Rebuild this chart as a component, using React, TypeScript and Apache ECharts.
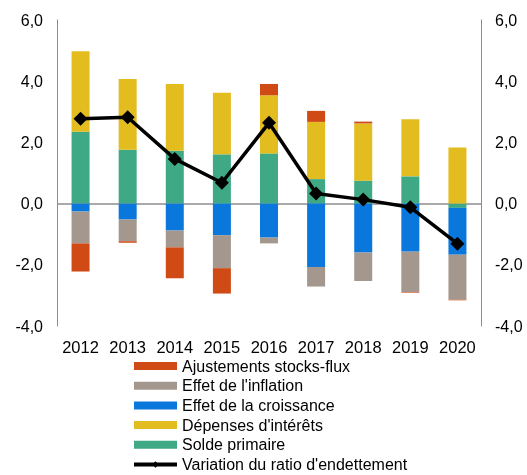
import React, { useEffect, useRef } from "react";
import * as echarts from "echarts";

const years = ["2012", "2013", "2014", "2015", "2016", "2017", "2018", "2019", "2020"];
const soldePrimaire = [2.35, 1.76, 1.73, 1.61, 1.64, 0.8, 0.75, 0.89, -0.14];
const depensesInterets = [2.63, 2.31, 2.18, 2.01, 1.9, 1.87, 1.87, 1.87, 1.83];
const effetCroissance = [-0.26, -0.52, -0.88, -1.03, -1.11, -2.07, -1.6, -1.57, -1.53];
const effetInflation = [-1.04, -0.71, -0.55, -1.08, -0.19, -0.64, -0.93, -1.32, -1.47];
const ajustements = [-0.92, -0.05, -1.01, -0.83, 0.37, 0.36, 0.06, -0.02, -0.02];
const variationRatio = [2.77, 2.82, 1.46, 0.68, 2.64, 0.33, 0.13, -0.12, -1.31];

const FONT = "Liberation Sans, Arial, sans-serif";
const fmt = (v: number) => v.toFixed(1).replace(".", ",");

export default function App() {
  const ref = useRef<HTMLDivElement>(null);
  useEffect(() => {
    if (!ref.current) return;
    const chart = echarts.init(ref.current, null, { renderer: "svg" });
    const axisLabel = { color: "#000", fontSize: 16, fontFamily: FONT, formatter: fmt, margin: 14 };
    const barBase = { type: "bar", stack: "total", barWidth: 18 };
    chart.setOption({
      animation: false,
      textStyle: { fontFamily: FONT },
      grid: { left: 57, right: 46, top: 20, bottom: 149 },
      legend: {
        orient: "vertical",
        left: 132,
        top: 358,
        padding: 0,
        itemWidth: 43,
        itemHeight: 8,
        itemGap: 3.7,
        textStyle: { color: "#000", fontSize: 16, fontFamily: FONT },
        data: [
          { name: "Ajustements stocks-flux", icon: "rect" },
          { name: "Effet de l'inflation", icon: "rect" },
          { name: "Effet de la croissance", icon: "rect" },
          { name: "Dépenses d'intérêts", icon: "rect" },
          { name: "Solde primaire", icon: "rect" },
          { name: "Variation du ratio d'endettement", lineStyle: { width: 4, color: "#000" } },
        ],
      },
      xAxis: {
        type: "category",
        data: years,
        axisLine: { show: false },
        axisTick: { show: false },
        axisLabel: { color: "#000", fontSize: 16.5, fontFamily: FONT, margin: 12, interval: 0, hideOverlap: false },
      },
      yAxis: [
        {
          type: "value",
          min: -4,
          max: 6,
          interval: 2,
          position: "left",
          axisLine: { show: true, lineStyle: { color: "#8c8c8c", width: 1 } },
          axisTick: { show: false },
          splitLine: { show: false },
          axisLabel,
        },
        {
          type: "value",
          min: -4,
          max: 6,
          interval: 2,
          position: "right",
          axisLine: { show: true, lineStyle: { color: "#8c8c8c", width: 1 } },
          axisTick: { show: false },
          splitLine: { show: false },
          axisLabel,
        },
      ],
      series: [
        {
          ...barBase,
          name: "Solde primaire",
          data: soldePrimaire,
          itemStyle: { color: "#3fa884" },
          markLine: {
            silent: true,
            symbol: "none",
            label: { show: false },
            lineStyle: { color: "#8c8c8c", width: 1.5, type: "solid" },
            data: [{ yAxis: 0 }],
            z: 1,
          },
        },
        { ...barBase, name: "Dépenses d'intérêts", data: depensesInterets, itemStyle: { color: "#e3bc1f" } },
        { ...barBase, name: "Effet de la croissance", data: effetCroissance, itemStyle: { color: "#0a77dc" } },
        { ...barBase, name: "Effet de l'inflation", data: effetInflation, itemStyle: { color: "#a3978e" } },
        { ...barBase, name: "Ajustements stocks-flux", data: ajustements, itemStyle: { color: "#d04a16" } },
        {
          type: "line",
          name: "Variation du ratio d'endettement",
          data: variationRatio,
          symbol: "diamond",
          symbolSize: 14,
          z: 10,
          lineStyle: { color: "#000", width: 3.5 },
          itemStyle: { color: "#000" },
        },
      ],
    });
    return () => chart.dispose();
  }, []);
  return <div ref={ref} style={{ position: "fixed", left: 0, top: 0, width: 527, height: 475 }} />;
}
